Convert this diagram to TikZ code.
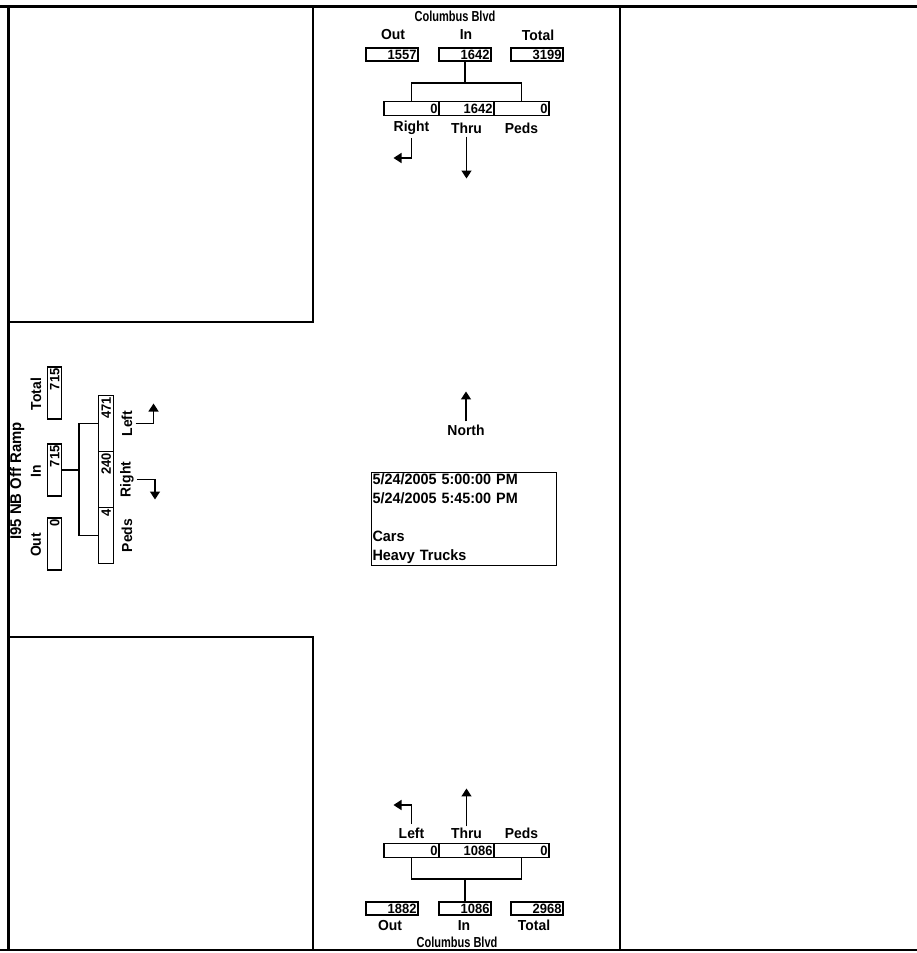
\documentclass[tikz,border=0pt]{standalone}
\usepackage{fontspec}
\setmainfont{Liberation Sans}[FakeStretch=0.96]
\newfontfamily\streetfont{Liberation Sans}[FakeStretch=0.76]
\usetikzlibrary{arrows.meta}
\begin{document}
\begin{tikzpicture}[x=1pt,y=-1pt,
  lbl/.style={inner sep=1pt,font=\fontsize{14.5}{16}\selectfont\bfseries},
  street/.style={inner sep=1pt,font=\streetfont\fontsize{14.5}{15}\selectfont\bfseries},
  numbox/.style={draw,line width=1.1pt,minimum width=52pt,minimum height=13pt,inner sep=0pt,
     text width=49pt,align=right,text height=9.6pt,text depth=0pt,
     font=\fontsize{13.5}{13}\selectfont\bfseries},
  cellbox/.style={numbox,minimum width=55pt,minimum height=14pt,text width=52pt},
  lcellbox/.style={numbox,minimum width=56pt,minimum height=15pt,text width=53pt},
  conn/.style={line width=1.1pt},
  arr/.style={line width=1.4pt,-{Triangle[length=8pt,width=10pt]}},
  frame/.style={line width=1.4pt},
  thickframe/.style={line width=3pt}]
\useasboundingbox (0,0) rectangle (917,953);
% frame
\draw[thickframe] (0,6) -- (917,6);
\draw[thickframe] (8,6) -- (8,951);
\draw[frame] (0,950) -- (917,950);
\draw[frame] (313,6) -- (313,322) -- (8,322);
\draw[frame] (8,637) -- (313,637) -- (313,950);
\draw[frame] (620,6) -- (620,950);

% ---------- top approach ----------
\node[street] (colT) at (455,16) {Columbus Blvd};
\node[lbl] (outTl) at (393,35) {Out};
\node[lbl] (inTl) at (466,35) {In};
\node[lbl] (totTl) at (538,35) {Total};
\node[numbox] (outT) at (392,54.5) {1557};
\node[numbox] (inT) at (465,54.5) {1642};
\node[numbox] (totT) at (537,54.5) {3199};
\node[cellbox] (rT) at (411.5,108.5) {0};
\node[cellbox] (tT) at (466.5,108.5) {1642};
\node[cellbox] (pT) at (521.5,108.5) {0};
\node[lbl] (rTl) at (411.5,128) {Right};
\node[lbl] (tTl) at (466.5,128) {Thru};
\node[lbl] (pTl) at (521.5,128) {Peds};
\coordinate (brT) at (465,83);
\draw[conn] (inT.south) -- (brT);
\draw[conn] (rT.north) |- (brT) -| (pT.north);
\draw[arr] (rTl.south) ++(0,2) -- ++(0,20) -- ++(-18,0);
\draw[arr] (tTl.south) ++(0,2) -- ++(0,42);

% ---------- bottom approach ----------
\draw[arr] (411.5,824) -- ++(0,-19) -- ++(-18,0);
\node[lbl] (lBl) at (411.5,833) {Left};
\node[lbl] (tBl) at (466.5,833) {Thru};
\node[lbl] (pBl) at (521.5,833) {Peds};
\draw[arr] (tBl.north) -- ++(0,-38);
\node[cellbox] (lB) at (411.5,850.5) {0};
\node[cellbox] (tB) at (466.5,850.5) {1086};
\node[cellbox] (pB) at (521.5,850.5) {0};
\coordinate (brB) at (465,879);
\draw[conn] (lB.south) |- (brB) -| (pB.south);
\node[numbox] (outB) at (392,908.5) {1882};
\node[numbox] (inB) at (465,908.5) {1086};
\node[numbox] (totB) at (537,908.5) {2968};
\draw[conn] (brB) -- (inB.north);
\node[lbl] (outBl) at (390,925.5) {Out};
\node[lbl] (inBl) at (464,925.5) {In};
\node[lbl] (totBl) at (534,925.5) {Total};
\node[street] (colB) at (457,942) {Columbus Blvd};

% ---------- left approach ----------
\node[lbl,rotate=90,font=\fontsize{15.5}{17}\selectfont\bfseries] (strL) at (17,481) {I95 NB Off Ramp};
\node[lbl,rotate=90] (totLl) at (36,394) {Total};
\node[lbl,rotate=90] (inLl) at (36,471) {In};
\node[lbl,rotate=90] (outLl) at (36,545) {Out};
\node[numbox,rotate=90,minimum height=14pt] (totL) at (54.5,393) {715};
\node[numbox,rotate=90,minimum height=14pt] (inL) at (54.5,470) {715};
\node[numbox,rotate=90,minimum height=14pt] (outL) at (54.5,544) {0};
\node[lcellbox,rotate=90] (lL) at (106,423.5) {471};
\node[lcellbox,rotate=90] (rL) at (106,479.5) {240};
\node[lcellbox,rotate=90] (pL) at (106,535.5) {4};
\coordinate (brL) at (79,470);
\draw[conn] (inL.south) -- (brL);
\draw[conn] (lL.north) -- (lL.north -| brL) -- (pL.north -| brL) -- (pL.north);
\node[lbl,rotate=90] (lLl) at (127,423.5) {Left};
\node[lbl,rotate=90] (rLl) at (127,479.5) {Right};
\node[lbl,rotate=90] (pLl) at (127,535.5) {Peds};
\draw[arr] (lLl.south) ++(2,0) -- ++(18,0) -- ++(0,-20);
\draw[arr] (rLl.south) ++(2,0) -- ++(18,0) -- ++(0,20);

% ---------- centre ----------
\node[lbl] (north) at (466,430) {North};
\draw[arr] (north.north) ++(0,-2) -- ++(0,-30);
\node[draw,line width=1.1pt,anchor=north west,minimum width=185pt,minimum height=93pt,
  text width=183pt,align=left,inner xsep=1pt,inner ysep=0pt,
  font=\fontsize{15}{19}\selectfont\bfseries] (info) at (371,472)
  {5/24/2005 5:00:00 PM\\5/24/2005 5:45:00 PM\\[19pt]Cars\\Heavy Trucks};
\end{tikzpicture}
\end{document}
